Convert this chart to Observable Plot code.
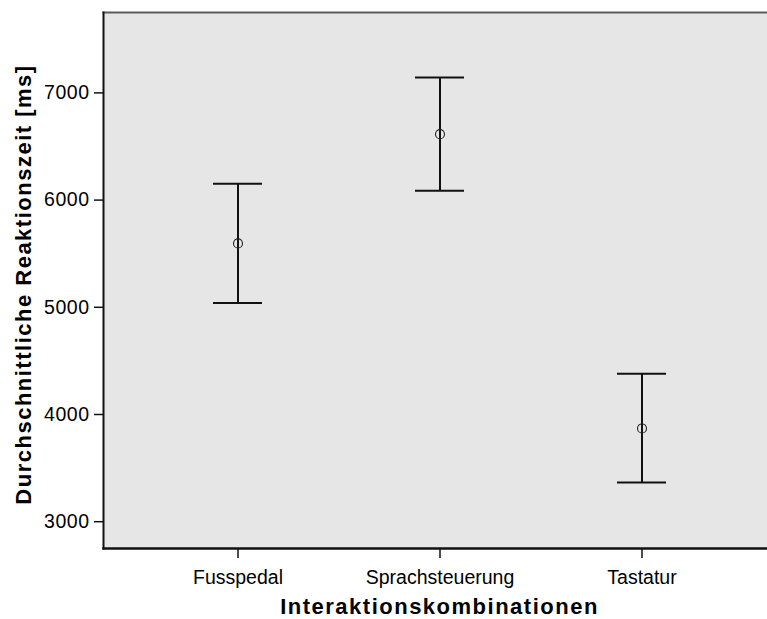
<!DOCTYPE html>
<html>
<head>
<meta charset="utf-8">
<script src="https://cdn.jsdelivr.net/npm/d3@7"></script>
<script src="https://cdn.jsdelivr.net/npm/@observablehq/plot@0.6"></script>
<style>
  html, body { margin: 0; padding: 0; background: #fff; }
  #chart svg { display: block; }
</style>
</head>
<body>
<div id="chart"></div>
<script>
// Data
const categories = ["Fusspedal", "Sprachsteuerung", "Tastatur"];
const means = [5596, 6615, 3870];
const upper = [6152, 7143, 4379];
const lower = [5041, 6087, 3366];
const yTicks = [3000, 4000, 5000, 6000, 7000];
const xTitle = "Interaktionskombinationen";
const yTitle = "Durchschnittliche Reaktionszeit [ms]";

const rows = categories.map((c, i) => ({cat: c, mean: means[i], hi: upper[i], lo: lower[i]}));

const font = "'Liberation Sans', Arial, Helvetica, sans-serif";

const chart = Plot.plot({
  width: 767,
  height: 619,
  marginLeft: 103,
  marginRight: 0,
  marginTop: 12,
  marginBottom: 71,
  style: {fontFamily: font, background: "#fff", color: "#000"},
  x: {type: "band", domain: categories, range: [135.75, 743.25], paddingInner: 0.758, paddingOuter: 0.379, align: 0.5},
  y: {domain: [2750, 7750]},
  marks: [
    Plot.frame({fill: "#e6e6e6", stroke: null}),
    Plot.frame({anchor: "top", stroke: "#5a5a5a", strokeWidth: 2}),
    Plot.frame({anchor: "left", stroke: "#111", strokeWidth: 2}),
    Plot.frame({anchor: "bottom", stroke: "#111", strokeWidth: 2.5}),
    Plot.axisY({ticks: yTicks, tickSize: 9, tickPadding: 5, tickFormat: d => String(d), fontSize: 19.5, label: null, stroke: "#111", strokeWidth: 1.5}),
    Plot.axisX({tickSize: 10, tickPadding: 11.5, fontSize: 19.5, label: null, stroke: "#111", strokeWidth: 1.5}),
    Plot.ruleX(rows, {x: "cat", y1: "lo", y2: "hi", stroke: "#111", strokeWidth: 2}),
    Plot.tickY(rows, {x: "cat", y: "hi", stroke: "#111", strokeWidth: 2}),
    Plot.tickY(rows, {x: "cat", y: "lo", stroke: "#111", strokeWidth: 2}),
    Plot.dot(rows, {x: "cat", y: "mean", r: 4.5, stroke: "#222", strokeWidth: 1.1, fill: "none"}),
    Plot.text([xTitle], {frameAnchor: "bottom", textAnchor: "middle", lineAnchor: "middle", dx: 4, dy: 58.5, text: d => d, fontSize: 22, fontWeight: "bold", fill: "#000"}),
    Plot.text([yTitle], {frameAnchor: "left", textAnchor: "middle", lineAnchor: "middle", rotate: -90, dx: -80, dy: 4, text: d => d, fontSize: 22, fontWeight: "bold", fill: "#000"})
  ]
});
// letter spacing to mimic the wider original typeface
d3.select(chart).selectAll('g[aria-label="text"] text').style("letter-spacing", "1.5px");
d3.select(chart).selectAll('g[aria-label="y-axis tick label"] text').style("letter-spacing", "0.5px");
document.getElementById("chart").appendChild(chart);
</script>
</body>
</html>
